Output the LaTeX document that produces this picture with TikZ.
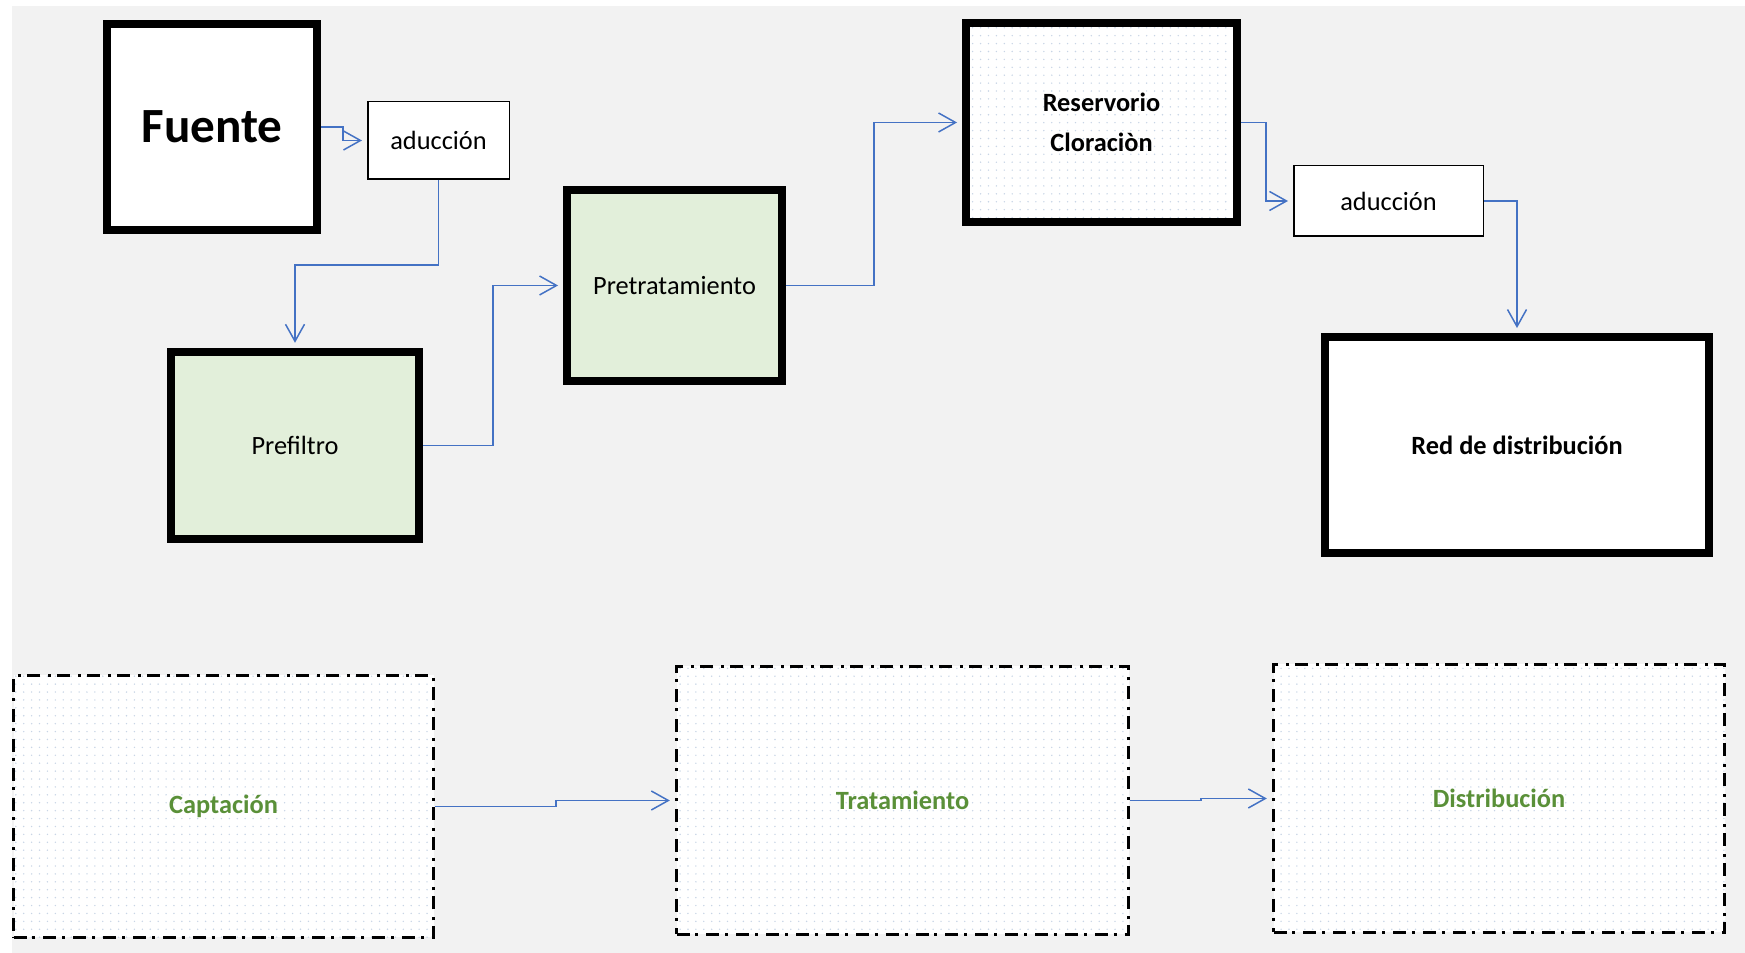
\documentclass[tikz,border=0pt]{standalone}
\usepackage{fontspec}
\setmainfont{Carlito}
\usepackage{xcolor}
\usepackage{tikz}
\usetikzlibrary{arrows.meta,patterns.meta}
\definecolor{fondo}{HTML}{F2F2F2}
\definecolor{verdeclaro}{HTML}{E2EFDA}
\definecolor{verdetexto}{HTML}{5A9038}
\definecolor{azul}{HTML}{4472C4}
\definecolor{puntos}{HTML}{C8D5E6}
\tikzstyle{caja} = [draw=black, line width=4.5pt, inner sep=0pt, align=center, font=\fontsize{15}{22.7}\selectfont]
\tikzstyle{delgada} = [draw=black, line width=0.85pt, fill=white, inner sep=0pt, font=\fontsize{15}{22.7}\selectfont]
\tikzstyle{puntead} = [preaction={fill=white}, pattern={Dots[distance=4.5pt,radius=0.45pt]}, pattern color=puntos]
\tikzstyle{etapa} = [puntead, draw=black, line width=1.9pt, dash pattern=on 7.4pt off 3.4pt on 1.7pt off 4.5pt, inner sep=0pt, text=verdetexto, font=\bfseries\fontsize{15}{22.7}\selectfont]
\tikzstyle{flecha} = [draw=azul, line width=0.85pt, -{Straight Barb[length=0.34cm,width=0.38cm]}, shorten >=0.1cm]

\begin{document}
\begin{tikzpicture}
    \useasboundingbox (0,0) rectangle (34.9,19.06);
    \fill[white] (0,0) rectangle (34.9,19.06);
    \fill[fondo] (0.24,0) rectangle (34.9,18.94);

    % fila de arriba
    \node[caja, fill=white, minimum width=4.20cm, minimum height=4.12cm, font=\bfseries\fontsize{28}{34}\selectfont] (fuente) at (4.24,16.52) {Fuente};
    \node[delgada, minimum width=2.83cm, minimum height=1.55cm] (aduccionA) at (8.77,16.25) {aducción};
    \node[caja, fill=verdeclaro, minimum width=4.97cm, minimum height=3.75cm] (prefiltro) at (5.9,10.15) {Prefiltro};
    \node[caja, fill=verdeclaro, minimum width=4.30cm, minimum height=3.82cm] (pretrat) at (13.49,13.35) {Pretratamiento};
    \node[caja, puntead, minimum width=5.42cm, minimum height=3.98cm, font=\bfseries\fontsize{15}{22.7}\selectfont] (reservorio) at (22.03,16.61) {Reservorio\\Cloraciòn};
    \node[delgada, minimum width=3.79cm, minimum height=1.41cm] (aduccionB) at (27.77,15.04) {aducción};
    \node[caja, fill=white, minimum width=7.68cm, minimum height=4.32cm, font=\bfseries\fontsize{15}{22.7}\selectfont] (red) at (30.34,10.16) {Red de distribución};

    % etapas
    \node[etapa, minimum width=8.40cm, minimum height=5.24cm] (captacion) at (4.47,2.93) {Captación};
    \node[etapa, minimum width=9.04cm, minimum height=5.36cm] (tratamiento) at (18.05,3.05) {Tratamiento};
    \node[etapa, minimum width=9.02cm, minimum height=5.36cm] (distribucion) at (29.98,3.09) {Distribución};

    \draw[flecha] (fuente.east) -- ++(0.44,0) |- (aduccionA.west);
    \draw[flecha] (aduccionA.south) -- ++(0,-1.7) -| (prefiltro.north);
    \draw[flecha] (prefiltro.east) -- ++(1.4,0) |- (pretrat.west);
    \draw[flecha] (pretrat.east) -- ++(1.76,0) |- (reservorio.west);
    \draw[flecha] (reservorio.east) -- ++(0.5,0) |- (aduccionB.west);
    \draw[flecha] (aduccionB.east) -| (red.north);
    \draw[flecha] (captacion.east) -- ++(2.42,0) |- (tratamiento.west);
    \draw[flecha] (tratamiento.east) -- ++(1.42,0) |- (distribucion.west);
\end{tikzpicture}
\end{document}
